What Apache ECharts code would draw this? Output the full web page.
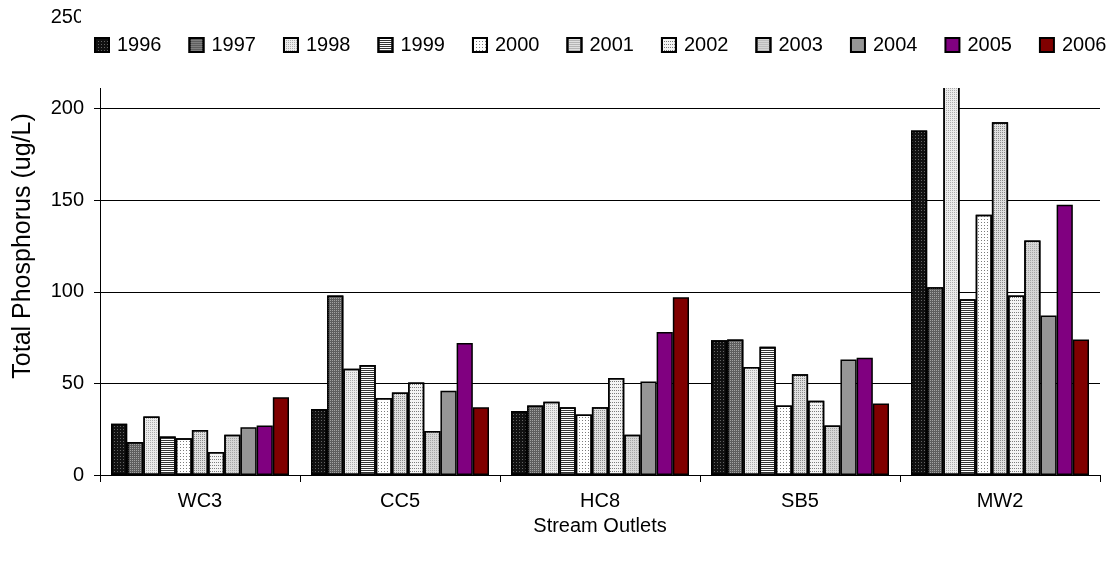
<!DOCTYPE html>
<html>
<head>
<meta charset="utf-8">
<script src="https://cdn.jsdelivr.net/npm/echarts@6/dist/echarts.min.js"></script>
<style>
html,body{margin:0;padding:0;background:#fff;}
#chart{width:1109px;height:561px;}
</style>
</head>
<body>
<div id="chart"></div>
<script>
// ---- data ----
const outlets = ['WC3', 'CC5', 'HC8', 'SB5', 'MW2'];
const years = ['1996', '1997', '1998', '1999', '2000', '2001', '2002', '2003', '2004', '2005', '2006'];
// values per outlet, in year order 1996..2006
const wc3 = [28, 18, 32, 21, 20, 24.5, 12.5, 22, 26, 27, 42.5];
const cc5 = [36, 98, 58, 60, 42, 45, 50.5, 24, 46, 72, 37];
const hc8 = [35, 38, 40, 37, 33, 37, 53, 22, 51, 78, 97];
const sb5 = [73.5, 74, 59, 70, 38, 55, 40.5, 27, 63, 64, 39];
const mw2 = [188, 102.5, 240, 96, 142, 192.5, 98, 128, 87, 147.5, 74];
const yMin = 0, yMax = 250, yStep = 50;

// ---- styles (not data) ----
const FONT = 'Liberation Sans, Arial, sans-serif';
function dots(bg, fg, dx, dy) {
  return { color: bg, decal: { symbol: 'rect', symbolSize: 1, color: fg, dashArrayX: dx, dashArrayY: dy, rotation: 0 } };
}
const styles = [
  dots('#111111', 'rgba(120,120,120,0.8)', [1, 2], [1, 2]),
  dots('#5e5e5e', 'rgba(170,170,170,0.9)', [1, 1], [1, 1]),
  dots('#ececec', 'rgba(165,165,165,0.9)', [1, 1], [1, 1]),
  dots('#ffffff', '#333333', [1, 0], [1, 1]),
  dots('#ffffff', 'rgba(110,110,110,0.9)', [1, 2], [1, 2]),
  dots('#e0e0e0', 'rgba(130,130,130,0.9)', [1, 1], [1, 1]),
  dots('#f4f4f4', 'rgba(110,110,110,0.9)', [1, 1], [1, 2]),
  dots('#d6d6d6', 'rgba(160,160,160,0.9)', [1, 1], [1, 1]),
  { color: '#969696' },
  { color: '#800080' },
  { color: '#800000' }
];

const byOutlet = [wc3, cc5, hc8, sb5, mw2];
const series = years.map((y, i) => ({
  name: y,
  type: 'bar',
  data: byOutlet.map(arr => arr[i]),
  barGap: '0%',
  barCategoryGap: '11%',
  itemStyle: Object.assign({ borderColor: '#000', borderWidth: 1.5 }, styles[i])
}));

const chart = echarts.init(document.getElementById('chart'), null, { renderer: 'canvas' });
chart.setOption({
  animation: false,
  backgroundColor: '#fff',
  textStyle: { fontFamily: FONT, color: '#000' },
  grid: { left: 100, right: 9, top: 17, bottom: 86, containLabel: false },
  legend: {
    data: years,
    orient: 'horizontal',
    left: 94,
    top: 35,
    width: 1015,
    z: 10,
    padding: 0,
    itemWidth: 14,
    itemHeight: 14,
    itemGap: 27,
    icon: 'rect',
    selectedMode: false,
    textStyle: { fontSize: 20, fontFamily: FONT, color: '#000', padding: [0, 0, 0, 3] }
  },
  graphic: [{
    type: 'rect',
    z: 3,
    shape: { x: 81, y: 0, width: 1028, height: 88 },
    style: { fill: '#fff' },
    silent: true
  }],
  xAxis: {
    type: 'category',
    data: outlets,
    name: 'Stream Outlets',
    nameLocation: 'middle',
    nameGap: 41,
    nameTextStyle: { fontSize: 20, fontFamily: FONT, color: '#000' },
    axisLine: { lineStyle: { color: '#000', width: 1 } },
    axisTick: { show: true, length: 7, lineStyle: { color: '#000' } },
    axisLabel: { fontSize: 20, fontFamily: FONT, color: '#000', margin: 16 }
  },
  yAxis: {
    type: 'value',
    min: yMin,
    max: yMax,
    interval: yStep,
    name: 'Total Phosphorus (ug/L)',
    nameLocation: 'middle',
    nameGap: 64,
    nameTextStyle: { fontSize: 25, fontFamily: FONT, color: '#000' },
    axisLine: { show: true, lineStyle: { color: '#000', width: 1 } },
    axisTick: { show: true, length: 6, lineStyle: { color: '#000' } },
    axisLabel: { fontSize: 20, fontFamily: FONT, color: '#000', margin: 16 },
    splitLine: { show: true, lineStyle: { color: '#000', width: 1 } }
  },
  series: series
});
</script>
</body>
</html>
